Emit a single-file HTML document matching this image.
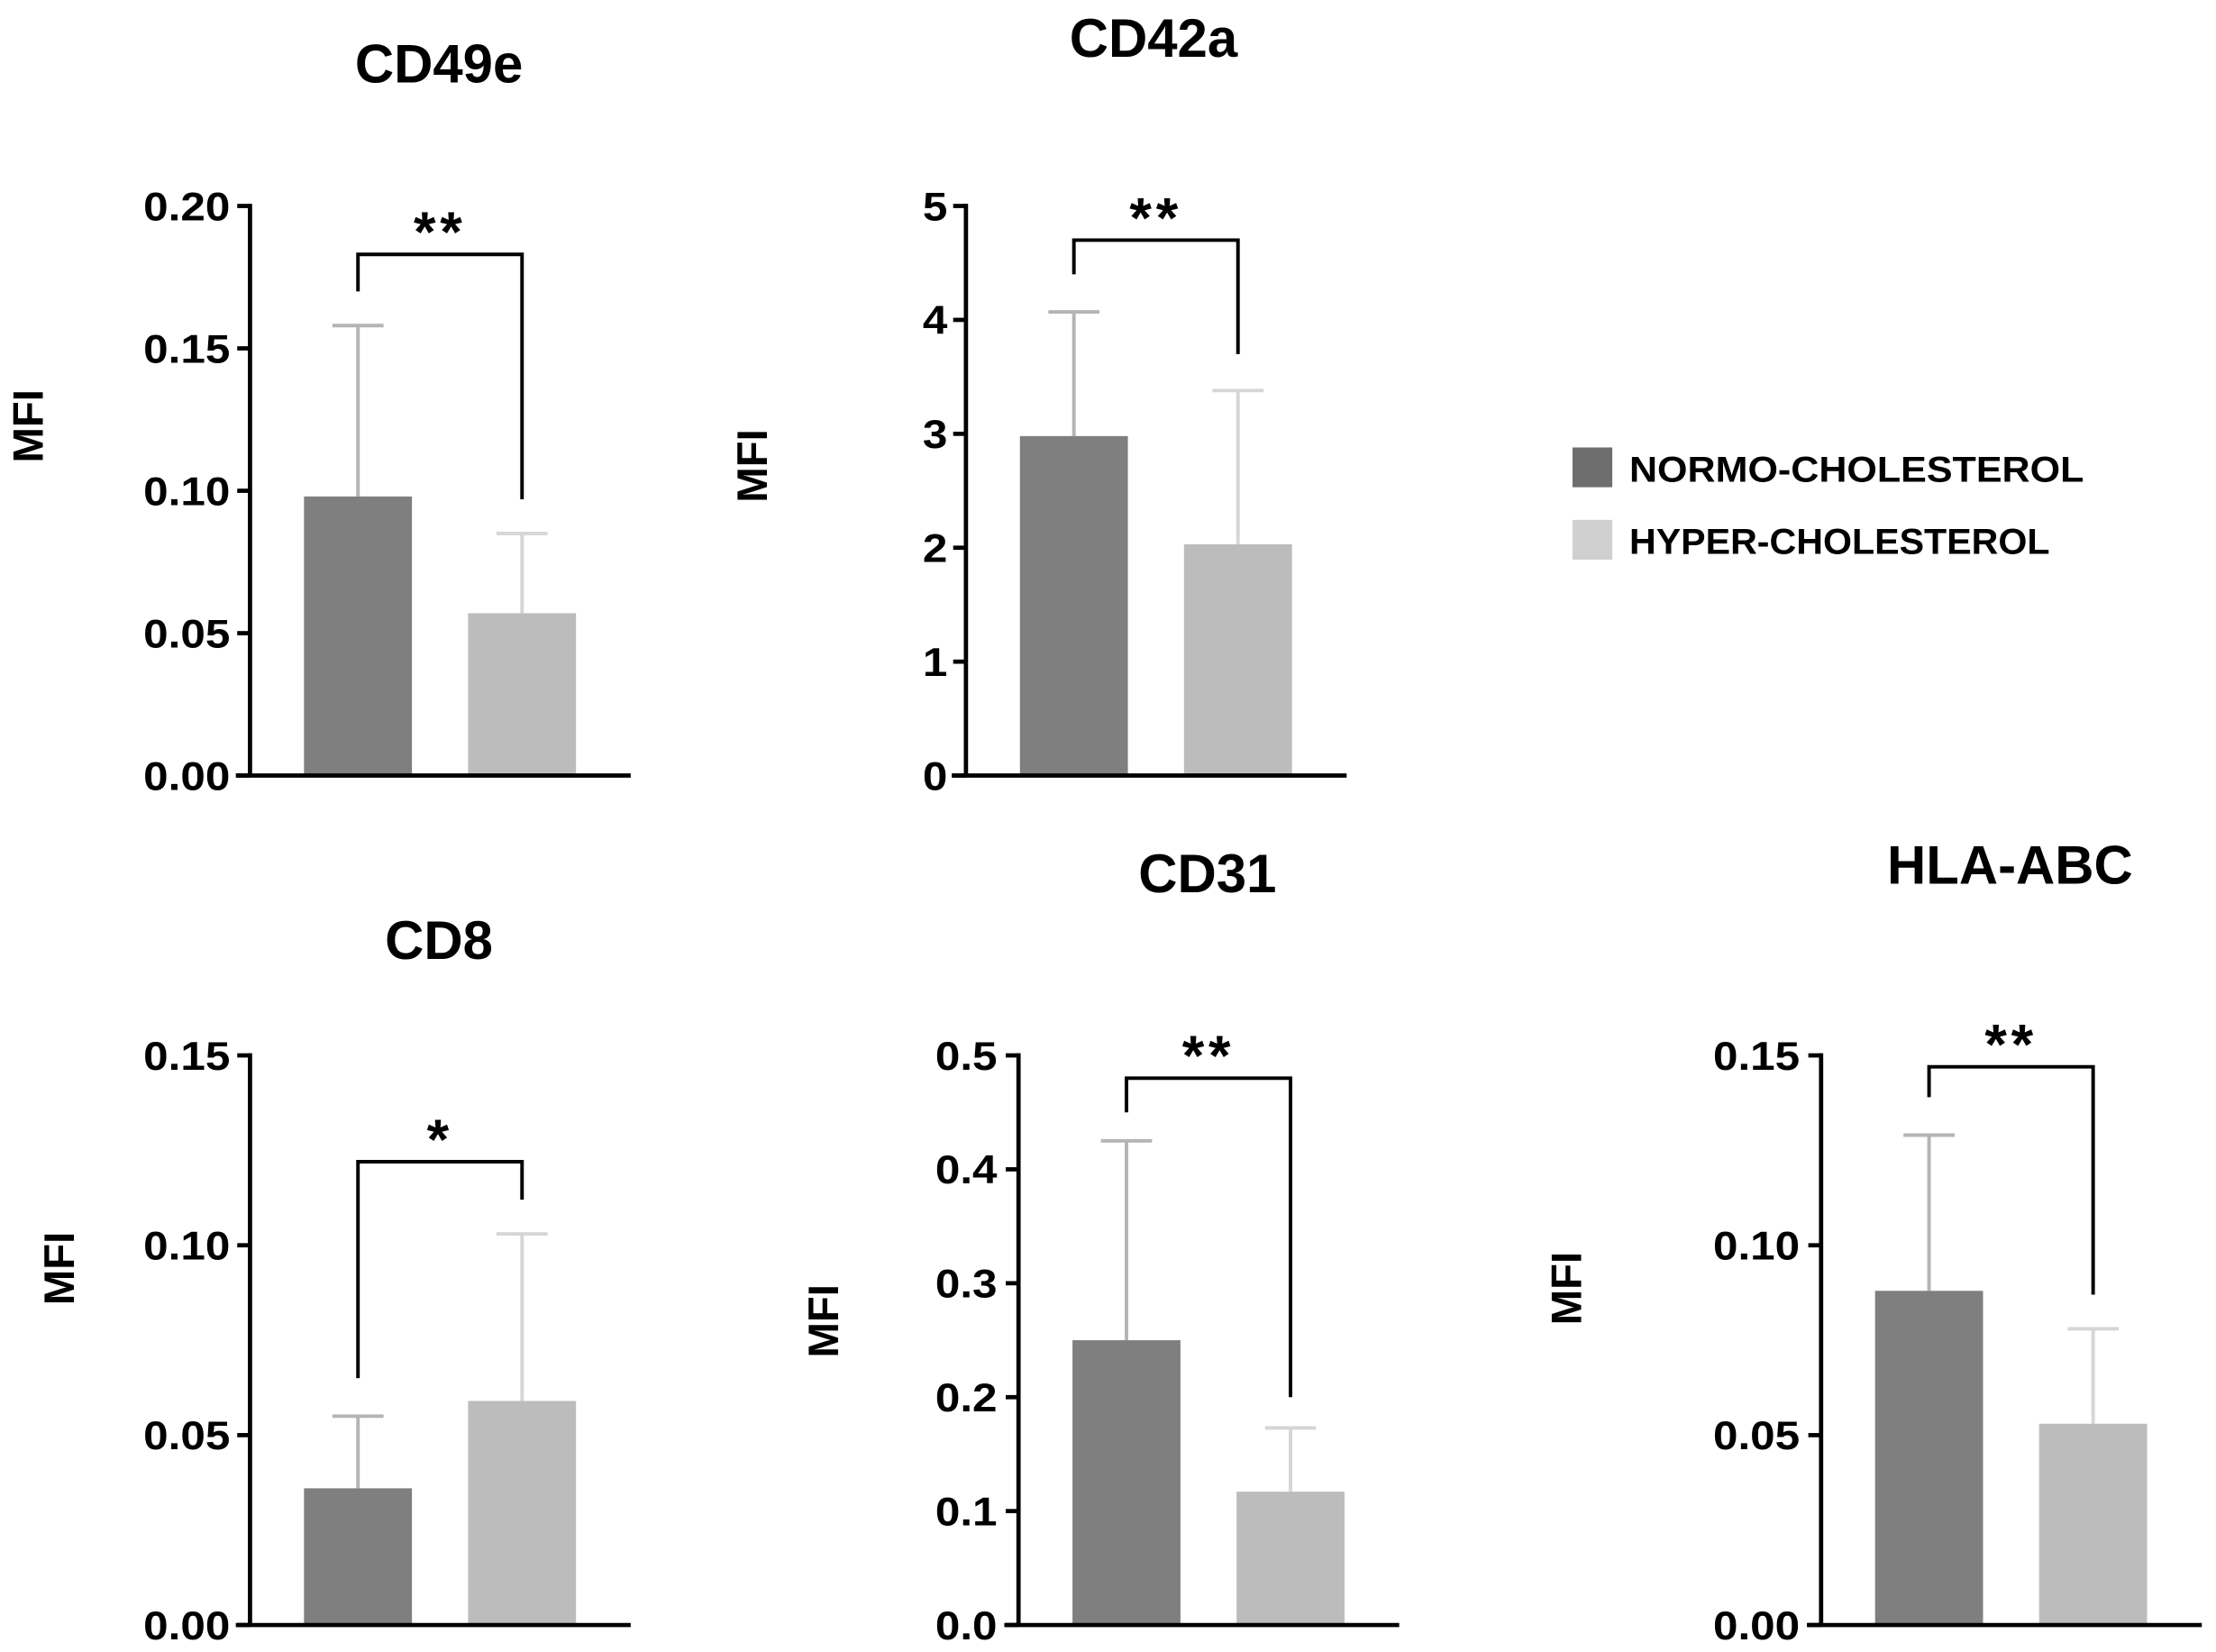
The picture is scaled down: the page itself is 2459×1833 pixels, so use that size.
<!DOCTYPE html>
<html><head><meta charset="utf-8">
<style>
html,body{margin:0;padding:0;background:#fff;}
svg{display:block;}
text{font-family:"Liberation Sans",Arial,sans-serif;font-weight:bold;fill:#000;}
</style></head>
<body>
<svg id="fig" width="2459" height="1833" viewBox="0 0 1560 1163" preserveAspectRatio="none" xmlns="http://www.w3.org/2000/svg">
<g>
<rect x="1107" y="315" width="28" height="28" fill="#6e6e6e"/>
<text x="1147" y="339" font-size="25" textLength="320" lengthAdjust="spacingAndGlyphs">NORMO-CHOLESTEROL</text>
<rect x="1107" y="366" width="28" height="28" fill="#d0d0d0"/>
<text x="1147" y="390" font-size="25" textLength="296" lengthAdjust="spacingAndGlyphs">HYPER-CHOLESTEROL</text>
</g>
</svg>
<script>
const panelTitles = ["CD49e", "CD42a", "CD8", "CD31", "HLA-ABC"];
const normoMeans = [0.098, 2.98, 0.036, 0.25, 0.088];
const normoErr = [0.060, 1.09, 0.019, 0.175, 0.041];
const hyperMeans = [0.057, 2.03, 0.059, 0.117, 0.053];
const hyperErr = [0.028, 1.35, 0.044, 0.056, 0.025];
const yMax = [0.20, 5, 0.15, 0.5, 0.15];
const tickLabels = [
  ["0.00","0.05","0.10","0.15","0.20"],
  ["0","1","2","3","4","5"],
  ["0.00","0.05","0.10","0.15"],
  ["0.0","0.1","0.2","0.3","0.4","0.5"],
  ["0.00","0.05","0.10","0.15"]
];
const sigLabels = ["**","**","*","**","**"];
const bracketTop = [0.183, 4.7, 0.122, 0.48, 0.147];
const bracketLeftEnds = [0.170, 4.4, 0.065, 0.45, 0.139];
const bracketRightEnds = [0.097, 3.7, 0.112, 0.20, 0.087];

const layout = [
  {ax:176, top:145, bot:546, xEnd:444, title:[309,58], mfi:[18,300], tickEnd:157},
  {ax:680, top:145, bot:546, xEnd:948, title:[812,40], mfi:[528,328], tickEnd:662},
  {ax:176, top:743, bot:1144, xEnd:444, title:[309,675], mfi:[40,893], tickEnd:157},
  {ax:717, top:743, bot:1144, xEnd:985, title:[850,628], mfi:[578,930], tickEnd:697},
  {ax:1282, top:743, bot:1144, xEnd:1550, title:[1415,622], mfi:[1101,907], tickEnd:1262}
];
const NS = "http://www.w3.org/2000/svg";
const svg = document.getElementById('fig');
function mk(tag, attrs, parent){
  const e = document.createElementNS(NS, tag);
  for (const k in attrs) e.setAttribute(k, attrs[k]);
  parent.appendChild(e);
  return e;
}
panelTitles.forEach((title, i) => {
  const L = layout[i];
  const y = v => L.bot - (v / yMax[i]) * (L.bot - L.top);
  const g = mk('g', {}, svg);
  
  

  const t = mk('text', {x:L.title[0], y:L.title[1], 'font-size':38, 'text-anchor':'middle'}, g);
  t.textContent = title;
  
  

  const m = mk('text', {x:0, y:0, 'font-size':30, 'text-anchor':'middle', transform:`translate(${L.mfi[0]+12},${L.mfi[1]}) rotate(-90)`}, g);
  m.textContent = 'MFI';
  
  

  const cx1 = L.ax + 76, cx2 = L.ax + 191.5;
  const bars = [[cx1, normoMeans[i], normoErr[i], '#7f7f7f', '#b4b4b4', 'bar-normo'],
                [cx2, hyperMeans[i], hyperErr[i], '#bcbcbc', '#d6d6d6', 'bar-hyper']];
  bars.forEach(b => {
    const [cx, v, e, fill, ec, nm] = b;
    const eb = mk('g', {stroke:ec, 'stroke-width':2.5}, g);
    
    
    mk('line', {x1:cx, x2:cx, y1:y(v), y2:y(v+e)}, eb);
    mk('line', {x1:cx-18, x2:cx+18, y1:y(v+e), y2:y(v+e)}, eb);
    const r = mk('rect', {x:cx-38, y:y(v), width:76, height:L.bot - y(v), fill:fill}, g);
    
    
  });

  const axes = mk('g', {stroke:'#000', 'stroke-width':3, fill:'none'}, g);
  
  
  mk('line', {x1:L.ax, x2:L.ax, y1:L.top-1.5, y2:L.bot}, axes);
  mk('line', {x1:L.ax-10, x2:L.xEnd, y1:L.bot, y2:L.bot}, axes);
  const labs = tickLabels[i];
  labs.forEach((lab, k) => {
    const v = yMax[i] * k / (labs.length - 1);
    mk('line', {x1:L.ax-9, x2:L.ax, y1:y(v), y2:y(v)}, axes);
    const tx = mk('text', {x:0, y:0, 'font-size':28, 'text-anchor':'end', transform:`translate(${L.tickEnd+5},${y(v)+10}) scale(1.12,1)`}, g);
    tx.textContent = lab;
    
    
  });

  const bx1 = cx1, bx2 = cx2;
  const br = mk('path', {d:`M${bx1} ${y(bracketLeftEnds[i])} V${y(bracketTop[i])} H${bx2} V${y(bracketRightEnds[i])}`, stroke:'#000', 'stroke-width':2.5, fill:'none'}, g);
  
  
  const st = mk('text', {x:(bx1+bx2)/2, y:y(bracketTop[i]) - 2, 'font-size':40, 'text-anchor':'middle', 'letter-spacing':3}, g);
  st.textContent = sigLabels[i];
  
  
});
</script>
</body></html>
